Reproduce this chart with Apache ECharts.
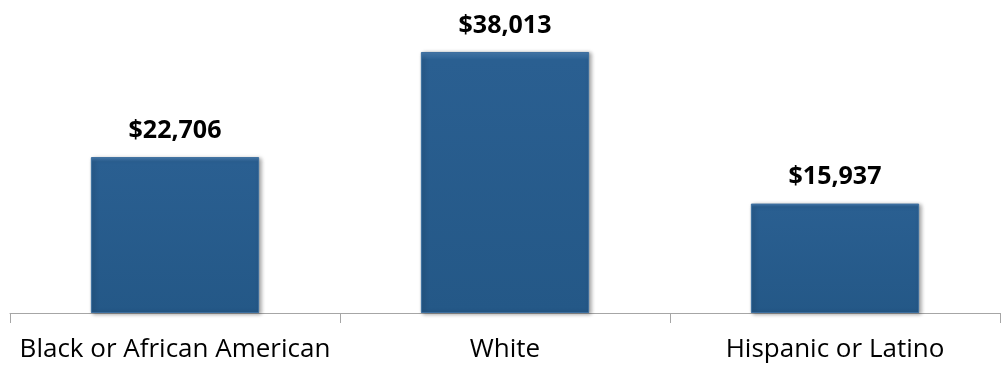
<!DOCTYPE html>
<html>
<head>
<meta charset="utf-8">
<script src="https://cdn.jsdelivr.net/npm/echarts@6/dist/echarts.min.js"></script>
<style>
  html, body { margin: 0; padding: 0; background: #fff; }
  #chart { width: 1003px; height: 371px; }
</style>
</head>
<body>
<div id="chart"></div>
<script>
// categories and values
const categories = ['Black or African American', 'White', 'Hispanic or Latino']
const values = [22706, 38013, 15937]

const chart = echarts.init(document.getElementById('chart'))

chart.setOption({
  animation: false,
  grid: { left: 10, right: 3, top: 4, bottom: 58 },
  xAxis: {
    type: 'category',
    data: categories,
    axisLine: { lineStyle: { color: '#a6a6a6', width: 1 } },
    axisTick: { show: true, length: 10, lineStyle: { color: '#a6a6a6' } },
    axisLabel: {
      color: '#000',
      fontFamily: 'Open Sans',
      fontSize: 26,
      margin: 24,
      interval: 0,
    },
  },
  yAxis: {
    type: 'value',
    min: 0,
    max: 45000,
    show: false,
    splitLine: { show: false },
  },
  series: [
    {
      type: 'bar',
      barWidth: '51%',
      data: values,
      itemStyle: {
        color: {
          type: 'linear', x: 0, y: 0, x2: 0, y2: 1,
          colorStops: [
            { offset: 0, color: '#4a7fb3' },
            { offset: 0.03, color: '#2a5f91' },
            { offset: 1, color: '#245887' },
          ],
        },
        borderColor: '#3d6f9f',
        borderWidth: 1,
        shadowColor: 'rgba(0, 0, 0, 0.35)',
        shadowBlur: 4,
        shadowOffsetX: 2,
        shadowOffsetY: 1,
      },
      label: {
        show: true,
        position: 'top',
        distance: 14,
        color: '#000',
        fontFamily: 'Open Sans',
        fontWeight: 'bold',
        fontSize: 25,
        formatter: (p) => '$' + p.value.toLocaleString('en-US'),
      },
    },
  ],
})
</script>
</body>
</html>
